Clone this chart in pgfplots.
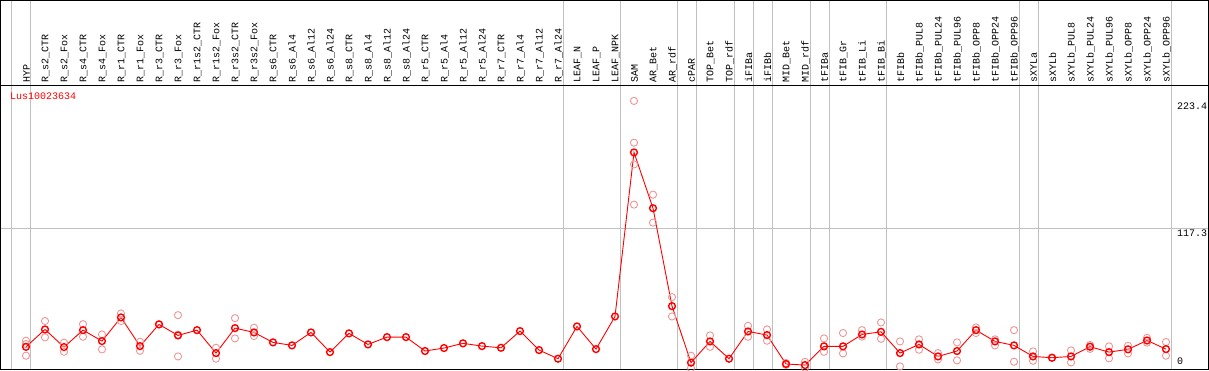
\documentclass[border=0pt]{standalone}
\usepackage{pgfplots}
\pgfplotsset{compat=1.18}
\usepackage{fontspec}
\setmainfont{Liberation Mono}
\definecolor{repc}{RGB}{236,150,150}
\definecolor{gridc}{RGB}{192,192,192}
\begin{document}
\begin{tikzpicture}
\begin{axis}[
  scale only axis,
  width=1207pt, height=283pt,
  xmin=-1.3158, xmax=62.2105,
  ymin=0, ymax=235.83,
  axis line style={draw=none},
  clip=false,
  font=\fontsize{10}{12}\selectfont,
  xtick={0,...,60},
  xticklabel pos=upper,
  major tick length=0pt,
  x tick label style={rotate=90, anchor=west, inner sep=0pt, xshift=3pt, yshift=-0.5pt},
  xticklabels={HYP,R\_s2\_CTR,R\_s2\_Fox,R\_s4\_CTR,R\_s4\_Fox,R\_r1\_CTR,R\_r1\_Fox,R\_r3\_CTR,R\_r3\_Fox,R\_r1s2\_CTR,R\_r1s2\_Fox,R\_r3s2\_CTR,R\_r3s2\_Fox,R\_s6\_CTR,R\_s6\_Al4,R\_s6\_Al12,R\_s6\_Al24,R\_s8\_CTR,R\_s8\_Al4,R\_s8\_Al12,R\_s8\_Al24,R\_r5\_CTR,R\_r5\_Al4,R\_r5\_Al12,R\_r5\_Al24,R\_r7\_CTR,R\_r7\_Al4,R\_r7\_Al12,R\_r7\_Al24,LEAF\_N,LEAF\_P,LEAF\_NPK,SAM,AR\_Bet,AR\_rdf,cPAR,TOP\_Bet,TOP\_rdf,iFIBa,iFIBb,MID\_Bet,MID\_rdf,tFIBa,tFIB\_Gr,tFIB\_Li,tFIB\_Bi,tFIBb,tFIBb\_PUL8,tFIBb\_PUL24,tFIBb\_PUL96,tFIBb\_OPP8,tFIBb\_OPP24,tFIBb\_OPP96,sXYLa,sXYLb,sXYLb\_PUL8,sXYLb\_PUL24,sXYLb\_PUL96,sXYLb\_OPP8,sXYLb\_OPP24,sXYLb\_OPP96},
  ytick={117.3,223.4},
  yticklabels={117.3,223.4},
  yticklabel pos=right,
  y tick label style={anchor=north west, inner sep=0pt, xshift=-31pt, yshift=-1.5pt},
  /pgf/number format/assume math mode=true,
]
% grid and separators
\draw[gridc, line width=1pt] (axis cs:-1.3158,117.3) -- (axis cs:62.2105,117.3);
\pgfplotsinvokeforeach{-0.737,0.263,28.263,31.263,34.263,35.263,37.263,38.263,39.263,41.263,42.263,45.263,52.263,53.263,60.263}{
  \draw[gridc, line width=1pt] (axis cs:#1,0) -- (axis cs:#1,307.5);
}
% frame
\draw[black, line width=1pt] (axis cs:-1.3684,307.1) -- (axis cs:62.263,307.1);
\draw[black, line width=1pt] (axis cs:-1.3684,236.25) -- (axis cs:62.263,236.25);
\draw[black, line width=1pt] (axis cs:-1.3684,0) -- (axis cs:62.263,0);
\draw[black, line width=1pt] (axis cs:-1.3158,-0.5) -- (axis cs:-1.3158,307.5);
\draw[black, line width=1pt] (axis cs:62.2105,-0.5) -- (axis cs:62.2105,307.5);
\node[red, anchor=base west, inner sep=0pt, font=\fontsize{10}{12}\selectfont] at (axis cs:-0.842,224.2) {Lus10023634};
\node[black, anchor=south west, inner sep=0pt, font=\fontsize{10}{12}\selectfont] at (axis cs:60.58,3.5) {0};
% replicates
\addplot[only marks, mark=o, mark size=3.6pt, repc, line width=0.9pt] coordinates {
(0,23.6)(0,11.1)(0,20.8)
(1,40)(1,26.4)
(2,21.9)(2,14.4)
(3,37.4)(3,26.9)
(4,28.8)(4,16.4)
(5,46.3)(5,40)
(6,22.7)(6,15.2)
(7,37.2)
(8,44.9)(8,10.5)(8,28.6)
(10,17.7)(10,8.6)
(11,42.4)(11,25.5)
(12,34.4)(12,27.5)
(32,223.4)(32,188.6)(32,170.5)(32,137)
(33,145.3)(33,122)
(34,59.9)(34,43.8)
(35,11.1)(35,0.8)
(36,28)(36,18.5)
(38,36)(38,26.9)
(39,33)(39,23.6)
(40,5)(40,3.5)
(41,6)(41,1)
(42,25.5)(42,14.4)
(43,30)(43,13)
(44,32.4)(44,27)
(45,38.8)(45,25.2)
(46,23)(46,2.2)
(47,24.7)(47,16.1)
(48,13.3)(48,8)
(49,22.2)(49,7.2)
(50,34.7)(50,30)
(51,24.7)(51,19.7)
(52,32.4)(52,6.1)
(53,14.7)(53,6.9)
(54,9.4)
(55,15.5)(55,5.5)
(56,20)(56,16.8)
(57,18.9)(57,8.9)
(58,19.4)(58,13)
(59,26)(59,22)
(60,22.5)(60,11.1)
};
% means
\addplot[red, line width=0.9pt, mark=o, mark size=3.4pt, mark options={line width=1.4pt, red}] coordinates {
(0,18.5)(1,33)(2,18.3)(3,32.4)(4,23.3)(5,43)(6,19.1)(7,37.2)(8,28)(9,32.4)
(10,13.3)(11,34.1)(12,30.5)(13,22.2)(14,19.7)(15,30.5)(16,14.1)(17,29.7)(18,20.5)(19,26.6)
(20,26.6)(21,15)(22,17.5)(23,21.4)(24,19.1)(25,17.7)(26,31.6)(27,15.8)(28,8.6)(29,35.5)
(30,16.6)(31,43.8)(32,180.5)(33,134)(34,52.4)(35,5.3)(36,23)(37,8.6)(38,31.3)(39,28.3)
(40,4.2)(41,3.3)(42,18.9)(43,18.9)(44,28.8)(45,31)(46,13.3)(47,20.5)(48,10.5)(49,15)
(50,32.4)(51,23)(52,19.7)(53,10.5)(54,9.4)(55,10.5)(56,18.6)(57,14.1)(58,16.4)(59,23.8)
(60,16.6)
};
\coordinate (BL) at (axis cs:-1.3684,-0.833);
\coordinate (TR) at (axis cs:62.263,307.5);
\end{axis}
\pgfresetboundingbox
\useasboundingbox (BL) rectangle (TR);
\end{tikzpicture}
\end{document}
